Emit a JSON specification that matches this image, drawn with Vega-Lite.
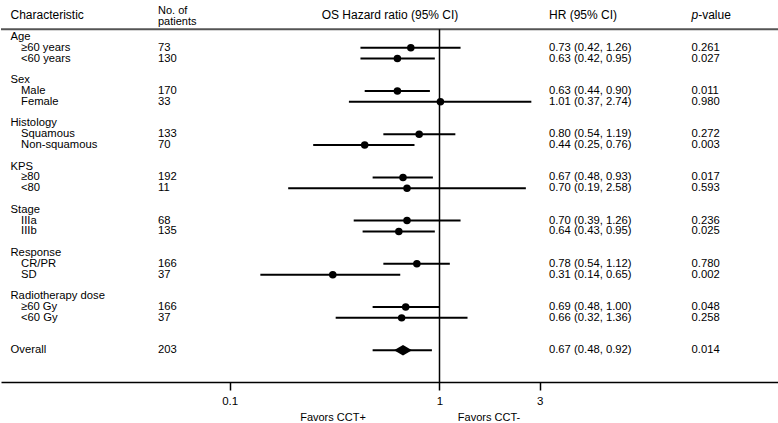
{
  "$schema": "https://vega.github.io/schema/vega-lite/v6.json",
  "width": 778,
  "height": 382,
  "padding": 0,
  "autosize": {"type": "pad"},
  "background": "white",
  "config": {
    "view": {"stroke": null},
    "text": {"font": "Liberation Sans", "color": "black", "fontSize": 11.25, "align": "left", "baseline": "middle"}
  },
  "data": {
    "values": [
      {"row": 0, "label": "Age", "level": "group"},
      {"row": 1, "label": "≥60 years", "level": "item", "n": "73", "hr": 0.73, "lo": 0.42, "hi": 1.26, "ci": "0.73 (0.42, 1.26)", "p": "0.261"},
      {"row": 2, "label": "<60 years", "level": "item", "n": "130", "hr": 0.63, "lo": 0.42, "hi": 0.95, "ci": "0.63 (0.42, 0.95)", "p": "0.027"},
      {"row": 4, "label": "Sex", "level": "group"},
      {"row": 5, "label": "Male", "level": "item", "n": "170", "hr": 0.63, "lo": 0.44, "hi": 0.90, "ci": "0.63 (0.44, 0.90)", "p": "0.011"},
      {"row": 6, "label": "Female", "level": "item", "n": "33", "hr": 1.01, "lo": 0.37, "hi": 2.74, "ci": "1.01 (0.37, 2.74)", "p": "0.980"},
      {"row": 8, "label": "Histology", "level": "group"},
      {"row": 9, "label": "Squamous", "level": "item", "n": "133", "hr": 0.80, "lo": 0.54, "hi": 1.19, "ci": "0.80 (0.54, 1.19)", "p": "0.272"},
      {"row": 10, "label": "Non-squamous", "level": "item", "n": "70", "hr": 0.44, "lo": 0.25, "hi": 0.76, "ci": "0.44 (0.25, 0.76)", "p": "0.003"},
      {"row": 12, "label": "KPS", "level": "group"},
      {"row": 13, "label": "≥80", "level": "item", "n": "192", "hr": 0.67, "lo": 0.48, "hi": 0.93, "ci": "0.67 (0.48, 0.93)", "p": "0.017"},
      {"row": 14, "label": "<80", "level": "item", "n": "11", "hr": 0.70, "lo": 0.19, "hi": 2.58, "ci": "0.70 (0.19, 2.58)", "p": "0.593"},
      {"row": 16, "label": "Stage", "level": "group"},
      {"row": 17, "label": "IIIa", "level": "item", "n": "68", "hr": 0.70, "lo": 0.39, "hi": 1.26, "ci": "0.70 (0.39, 1.26)", "p": "0.236"},
      {"row": 18, "label": "IIIb", "level": "item", "n": "135", "hr": 0.64, "lo": 0.43, "hi": 0.95, "ci": "0.64 (0.43, 0.95)", "p": "0.025"},
      {"row": 20, "label": "Response", "level": "group"},
      {"row": 21, "label": "CR/PR", "level": "item", "n": "166", "hr": 0.78, "lo": 0.54, "hi": 1.12, "ci": "0.78 (0.54, 1.12)", "p": "0.780"},
      {"row": 22, "label": "SD", "level": "item", "n": "37", "hr": 0.31, "lo": 0.14, "hi": 0.65, "ci": "0.31 (0.14, 0.65)", "p": "0.002"},
      {"row": 24, "label": "Radiotherapy dose", "level": "group"},
      {"row": 25, "label": "≥60 Gy", "level": "item", "n": "166", "hr": 0.69, "lo": 0.48, "hi": 1.00, "ci": "0.69 (0.48, 1.00)", "p": "0.048"},
      {"row": 26, "label": "<60 Gy", "level": "item", "n": "37", "hr": 0.66, "lo": 0.32, "hi": 1.36, "ci": "0.66 (0.32, 1.36)", "p": "0.258"},
      {"row": 29, "label": "Overall", "level": "group", "n": "203", "hr": 0.67, "lo": 0.48, "hi": 0.92, "ci": "0.67 (0.48, 0.92)", "p": "0.014", "overall": true}
    ]
  },
  "layer": [
    {
      "transform": [{"filter": "isValid(datum.hr)"}],
      "mark": {"type": "rule", "strokeWidth": 2, "color": "black"},
      "encoding": {
        "y": {"field": "row", "type": "quantitative", "scale": {"domain": [-3.4145, 31.934], "reverse": true, "nice": false, "zero": false}, "axis": null},
        "x": {
          "field": "lo", "type": "quantitative",
          "scale": {"type": "log", "domain": [0.008126, 41.52], "nice": false, "zero": false},
          "axis": {"values": [0.1, 1, 3], "format": "~g", "title": null, "grid": false, "domainColor": "black", "domainWidth": 1.5, "tickColor": "black", "tickWidth": 1.5, "tickSize": 8, "labelColor": "black", "labelFont": "Liberation Sans", "labelFontSize": 11.5, "labelPadding": 5, "labelFlush": false, "labelOverlap": false}
        },
        "x2": {"field": "hi"}
      }
    },
    {
      "data": {"values": [{}]},
      "mark": {"type": "rule", "color": "#555555", "strokeWidth": 2},
      "encoding": {"y": {"datum": -0.703}}
    },
    {
      "data": {"values": [{}]},
      "mark": {"type": "rule", "color": "black", "strokeWidth": 1.5},
      "encoding": {"x": {"datum": 1}, "y": {"datum": -0.703}, "y2": {"datum": 31.934}}
    },
    {
      "transform": [{"filter": "isValid(datum.hr) && !datum.overall"}],
      "mark": {"type": "point", "shape": "circle", "filled": true, "color": "black", "opacity": 1, "size": 56},
      "encoding": {"x": {"field": "hr", "type": "quantitative"}, "y": {"field": "row", "type": "quantitative"}}
    },
    {
      "transform": [{"filter": "datum.overall"}],
      "mark": {"type": "point", "shape": "M-1,0L0,-0.59L1,0L0,0.59Z", "filled": true, "color": "black", "opacity": 1, "size": 324},
      "encoding": {"x": {"field": "hr", "type": "quantitative"}, "y": {"field": "row", "type": "quantitative"}}
    },
    {
      "transform": [{"filter": "datum.level === 'group'"}],
      "mark": {"type": "text"},
      "encoding": {"x": {"datum": 0.009019}, "y": {"field": "row", "type": "quantitative"}, "text": {"field": "label"}}
    },
    {
      "transform": [{"filter": "datum.level === 'item'"}],
      "mark": {"type": "text"},
      "encoding": {"x": {"datum": 0.010121}, "y": {"field": "row", "type": "quantitative"}, "text": {"field": "label"}}
    },
    {
      "transform": [{"filter": "isValid(datum.n)"}],
      "mark": {"type": "text"},
      "encoding": {"x": {"datum": 0.045523}, "y": {"field": "row", "type": "quantitative"}, "text": {"field": "n"}}
    },
    {
      "transform": [{"filter": "isValid(datum.ci)"}],
      "mark": {"type": "text"},
      "encoding": {"x": {"datum": 3.3255}, "y": {"field": "row", "type": "quantitative"}, "text": {"field": "ci"}}
    },
    {
      "transform": [{"filter": "isValid(datum.p)"}],
      "mark": {"type": "text"},
      "encoding": {"x": {"datum": 15.891}, "y": {"field": "row", "type": "quantitative"}, "text": {"field": "p"}}
    },
    {
      "data": {"values": [{"t": "Characteristic"}]},
      "mark": {"type": "text", "fontSize": 12},
      "encoding": {"x": {"datum": 0.009019}, "y": {"datum": -2.0}, "text": {"field": "t"}}
    },
    {
      "data": {"values": [{"t": "No. of\npatients"}]},
      "mark": {"type": "text", "fontSize": 11, "lineBreak": "\n", "lineHeight": 11},
      "encoding": {"x": {"datum": 0.045523}, "y": {"datum": -2.44}, "text": {"field": "t"}}
    },
    {
      "data": {"values": [{"t": "OS Hazard ratio (95% CI)"}]},
      "mark": {"type": "text", "fontSize": 12, "align": "center"},
      "encoding": {"x": {"datum": 0.5808}, "y": {"datum": -2.05}, "text": {"field": "t"}}
    },
    {
      "data": {"values": [{"t": "HR (95% CI)"}]},
      "mark": {"type": "text", "fontSize": 12},
      "encoding": {"x": {"datum": 3.3255}, "y": {"datum": -2.0}, "text": {"field": "t"}}
    },
    {
      "data": {"values": [{"t": "p"}]},
      "mark": {"type": "text", "fontSize": 12, "fontStyle": "italic"},
      "encoding": {"x": {"datum": 15.891}, "y": {"datum": -2.0}, "text": {"field": "t"}}
    },
    {
      "data": {"values": [{"t": "-value"}]},
      "mark": {"type": "text", "fontSize": 12, "dx": 6.7},
      "encoding": {"x": {"datum": 15.891}, "y": {"datum": -2.0}, "text": {"field": "t"}}
    },
    {
      "data": {"values": [{"t": "Favors CCT+"}]},
      "mark": {"type": "text", "fontSize": 11, "align": "center"},
      "encoding": {"x": {"datum": 0.3108}, "y": {"datum": 35.23}, "text": {"field": "t"}}
    },
    {
      "data": {"values": [{"t": "Favors CCT-"}]},
      "mark": {"type": "text", "fontSize": 11, "align": "center"},
      "encoding": {"x": {"datum": 1.7218}, "y": {"datum": 35.23}, "text": {"field": "t"}}
    }
  ]
}
